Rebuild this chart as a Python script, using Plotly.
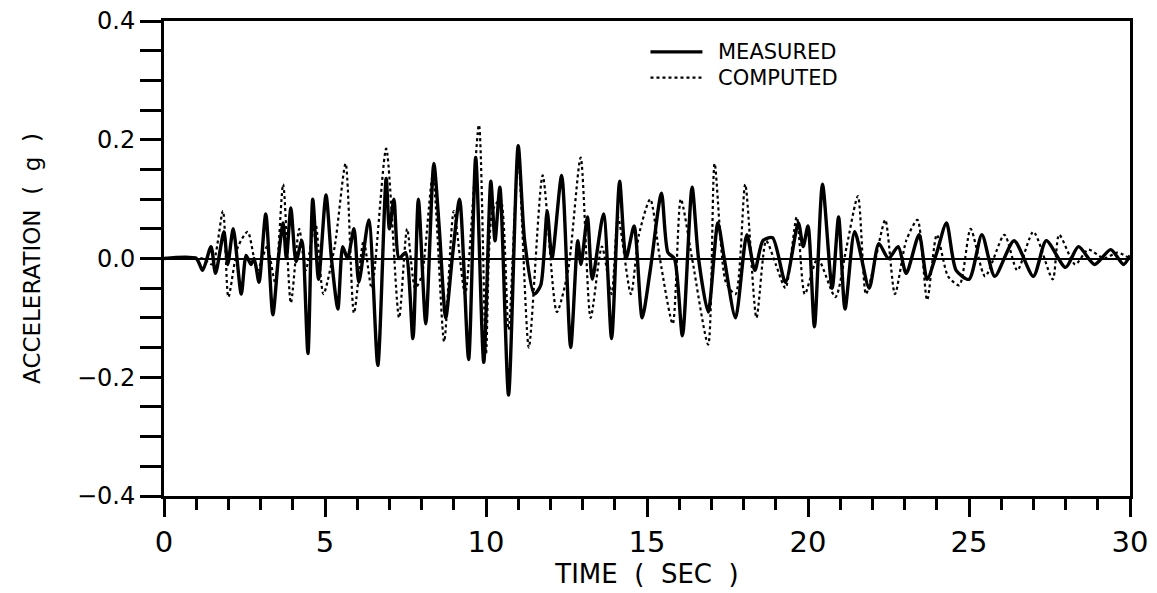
import plotly.graph_objects as go

# Measured record: time (s) and acceleration (g), read at turning points
t_meas = [0.0, 1.0, 1.2, 1.46, 1.6, 1.86, 1.98, 2.15, 2.4, 2.55, 2.7, 2.8, 2.95, 3.16, 3.38, 3.55, 3.7, 3.8,
          3.94, 4.1, 4.28, 4.47, 4.62, 4.8, 5.03, 5.2, 5.4, 5.55, 5.7, 5.9, 6.05, 6.36, 6.64, 6.9, 7.0,
          7.14, 7.3, 7.5, 7.73, 7.9, 8.13, 8.38, 8.55, 8.75, 8.95, 9.18, 9.46, 9.68, 9.93, 10.15, 10.28,
          10.43, 10.7, 11.0, 11.2, 11.5, 11.7, 11.9, 12.05, 12.35, 12.63, 12.85, 12.95, 13.15, 13.3,
          13.65, 13.9, 14.15, 14.35, 14.6, 14.85, 15.1, 15.45, 15.65, 15.85, 16.1, 16.4, 16.6, 16.9,
          17.2, 17.4, 17.75, 18.1, 18.35, 18.6, 18.9, 19.3, 19.7, 19.85, 20.0, 20.2, 20.45, 20.75,
          20.95, 21.15, 21.45, 21.9, 22.2, 22.5, 22.8, 23.05, 23.45, 23.7, 24.0, 24.3, 24.6, 25.0,
          25.4, 25.8, 26.4, 27.0, 27.4, 28.0, 28.4, 28.9, 29.4, 29.8, 30.0]
a_meas = [0.0, 0.0, -0.02, 0.02, -0.025, 0.045, -0.01, 0.05, -0.06, 0.005, -0.01, 0.0, -0.04, 0.075, -0.095, 0.0, 0.06, 0.0,
          0.085, -0.005, 0.03, -0.16, 0.10, -0.035, 0.107, 0.0, -0.085, 0.02, 0.0, 0.05, -0.04, 0.065, -0.18, 0.135, 0.05,
          0.10, 0.0, 0.01, -0.135, 0.10, -0.11, 0.16, 0.05, -0.10, 0.0, 0.10, -0.17, 0.17, -0.175, 0.13, 0.03,
          0.12, -0.23, 0.19, 0.03, -0.06, -0.045, 0.08, 0.0, 0.14, -0.15, 0.03, -0.01, 0.07, -0.035,
          0.075, -0.135, 0.13, 0.0, 0.055, -0.10, -0.02, 0.11, 0.01, 0.0, -0.13, 0.12, 0.0, -0.09,
          0.06, 0.0, -0.10, 0.04, -0.02, 0.03, 0.035, -0.04, 0.06, 0.02, 0.055, -0.115, 0.125, -0.05,
          0.07, -0.085, 0.045, -0.05, 0.025, 0.0, 0.02, -0.025, 0.04, -0.035, 0.01, 0.06, -0.02, -0.035,
          0.04, -0.03, 0.03, -0.03, 0.03, -0.015, 0.02, -0.01, 0.015, -0.01, 0.005]

# Computed record
t_comp = [0.0, 1.2, 1.5, 1.83, 2.0, 2.3, 2.6, 2.9, 3.2, 3.45, 3.7, 3.94, 4.2, 4.4, 4.7, 4.95, 5.3, 5.64,
          5.9, 6.2, 6.45, 6.9, 7.3, 7.55, 7.8, 8.0, 8.35, 8.7, 9.0, 9.35, 9.78, 10.0, 10.2, 10.45, 10.7,
          11.0, 11.33, 11.76, 12.2, 12.55, 12.94, 13.25, 13.6, 13.9, 14.1, 14.5, 14.75, 15.1, 15.4, 15.8,
          16.05, 16.4, 16.9, 17.1, 17.45, 17.75, 18.05, 18.4, 18.7, 19.0, 19.3, 19.65, 19.9, 20.3, 20.85,
          21.2, 21.55, 21.8, 22.1, 22.4, 22.7, 23.05, 23.4, 23.7, 24.0, 24.35, 24.7, 25.05, 25.5, 26.1,
          26.5, 27.0, 27.6, 27.8, 28.3, 28.7, 29.2, 29.6, 30.0]
a_comp = [0.0, 0.0, -0.01, 0.08, -0.065, 0.02, 0.045, -0.02, 0.02, -0.04, 0.125, -0.075, 0.05, -0.02, 0.06, -0.06, 0.02, 0.16,
          -0.092, 0.03, -0.05, 0.185, -0.10, 0.05, -0.05, -0.03, 0.14, -0.14, 0.08, -0.06, 0.225, -0.16, 0.08, 0.10, -0.12,
          0.17, -0.15, 0.14, -0.09, -0.02, 0.17, -0.10, 0.02, -0.06, 0.07, -0.06, 0.04, 0.10, 0.0, -0.11,
          0.10, 0.0, -0.145, 0.16, -0.04, -0.06, 0.125, -0.10, 0.03, -0.01, -0.05, 0.07, -0.06, 0.0, -0.065,
          0.02, 0.105, -0.06, 0.0, 0.065, -0.06, 0.03, 0.065, -0.07, 0.04, -0.03, -0.045, 0.05, -0.03, 0.04,
          -0.02, 0.045, -0.035, 0.04, -0.01, 0.015, 0.0, 0.01, 0.0]

x_ticks = [0, 5, 10, 15, 20, 25, 30]
y_ticks = [-0.4, -0.2, 0.0, 0.2, 0.4]
y_labels = ["\u22120.4", "\u22120.2", "0.0", "0.2", "0.4"]
series_names = ["MEASURED", "COMPUTED"]

FONT = "DejaVu Sans, Liberation Sans, sans-serif"

fig = go.Figure()
fig.add_trace(go.Scatter(x=t_meas, y=a_meas, mode="lines", name=series_names[0], showlegend=False,
                         line=dict(color="black", width=3.4, shape="spline", smoothing=0.7)))
fig.add_trace(go.Scatter(x=t_comp, y=a_comp, mode="lines", name=series_names[1], showlegend=False,
                         line=dict(color="black", width=2.2, dash="dot", shape="spline", smoothing=0.7)))

# legend key drawn in paper coordinates
legend_rows = [(0.935, "solid", 3.4), (0.881, "dot", 2.2)]
for (yy, dash, w), name in zip(legend_rows, series_names):
    fig.add_shape(type="line", xref="paper", yref="paper", x0=0.5036, x1=0.5574, y0=yy, y1=yy,
                  line=dict(color="black", width=w, dash=dash))
    fig.add_annotation(xref="paper", yref="paper", x=0.571, y=yy, text=name, showarrow=False,
                       xanchor="left", yanchor="middle", font=dict(size=21, family=FONT, color="black"))

fig.update_layout(
    width=1157, height=593,
    margin=dict(l=156, r=35, t=13, b=105),
    paper_bgcolor="white", plot_bgcolor="white",
    font=dict(family=FONT, color="black", size=22),
    showlegend=False,
)
fig.update_xaxes(
    range=[0, 30], tickvals=x_ticks, ticktext=[str(v) for v in x_ticks],
    showgrid=False, zeroline=False, automargin="bottom",
    showline=True, linecolor="black", linewidth=3, mirror=True,
    ticks="outside", ticklen=18, tickwidth=2.5, tickcolor="black",
    minor=dict(dtick=1, ticks="outside", ticklen=11, tickwidth=2.5, tickcolor="black", showgrid=False),
    tickfont=dict(size=29), ticklabeloverflow="allow",
    title=dict(text="TIME  (  SEC  )", font=dict(size=26), standoff=2),
)
fig.update_yaxes(
    range=[-0.4, 0.4], tickvals=y_ticks, ticktext=y_labels,
    showgrid=False, zeroline=True, zerolinecolor="black", zerolinewidth=2, automargin="left",
    showline=True, linecolor="black", linewidth=3, mirror=True,
    ticks="outside", ticklen=21, tickwidth=2.5, tickcolor="black",
    minor=dict(dtick=0.05, ticks="outside", ticklen=21, tickwidth=2.5, tickcolor="black", showgrid=False),
    tickfont=dict(size=24), ticklabeloverflow="allow",
    title=dict(text="ACCELERATION  (  g  )", font=dict(size=23), standoff=30),
)

fig.write_html("out.html")
